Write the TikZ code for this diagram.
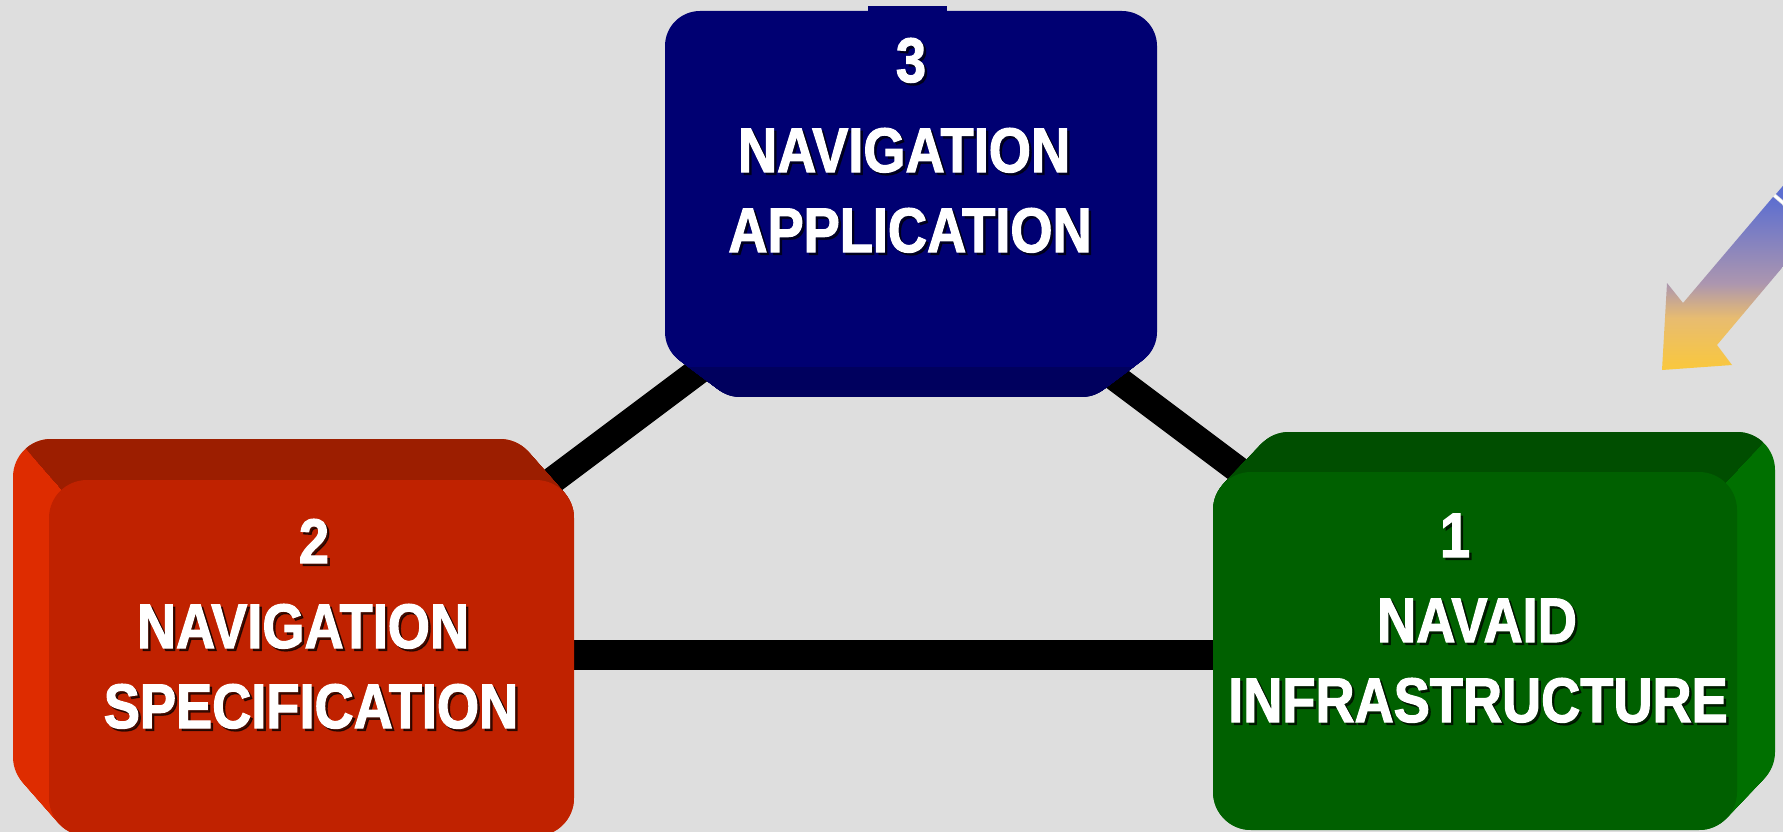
\documentclass[tikz,border=0pt]{standalone}
\usepackage{fontspec}
\newfontfamily\boxfont{Liberation Sans}[FakeStretch=0.86, BoldFeatures={FakeBold=1.8}]

\definecolor{bg}{RGB}{222,222,222}
\definecolor{navyface}{RGB}{0,0,114}
\definecolor{navyband}{RGB}{0,0,94}
\definecolor{redface}{RGB}{192,34,0}
\definecolor{redtop}{RGB}{156,30,0}
\definecolor{redside}{RGB}{222,44,0}
\definecolor{greenface}{RGB}{0,96,0}
\definecolor{greentop}{RGB}{0,78,0}
\definecolor{greenside}{RGB}{0,112,0}
\definecolor{arrowtop}{RGB}{92,110,208}
\definecolor{arrowmid}{RGB}{172,150,175}
\definecolor{arrowtan}{RGB}{232,188,112}
\definecolor{arrowbot}{RGB}{250,200,60}

% blue-to-gold fade of the arrow (path box spans 25bp..75bp)
\pgfdeclareverticalshading{arrowfade}{100bp}{%
  color(0bp)=(arrowbot); color(25bp)=(arrowbot); color(40bp)=(arrowtan);
  color(50bp)=(arrowmid); color(75bp)=(arrowtop); color(100bp)=(arrowtop)}

% one line of box text: white letters over a dark drop shadow
\newcommand\boxline[4]{%
  \node[boxshadow] (#1-shadow) at ({#2+2.5},{#3+2.5}) {#4};
  \node[boxtext] (#1) at (#2,#3) {#4};
}

\begin{document}
\begin{tikzpicture}[x=1pt,y=-1pt,
  link/.style={line width=#1, black},
  boxtext/.style={font={\boxfont\bfseries\fontsize{63pt}{63pt}\selectfont},
                  text=white, inner sep=0pt, anchor=base},
  boxshadow/.style={boxtext, text=black, text opacity=0.65},
]
\useasboundingbox (0,0) rectangle (1783,832);
\clip (0,0) rectangle (1783,832);
\fill[bg] (0,0) rectangle (1783,832);

% bar end points, set inside the boxes so the bars run under them
\coordinate (specNE) at (525,501);
\coordinate (appSW)  at (729,348);
\coordinate (appSE)  at (1089,358);
\coordinate (infNW)  at (1265,490);
\coordinate (specE)  at (560,654.5);
\coordinate (infW)   at (1230,654.5);

\draw[link=27pt] (specNE) -- (appSW);
\draw[link=27pt] (appSE) -- (infNW);
\draw[link=30pt] (specE) -- (infW);

% ---- box 3: navigation application (blue) ----
\foreach \t in {0,0.025,...,1.001}
  \fill[navyface, rounded corners=35pt]
    ({665+40*\t},{11+30*\t}) rectangle ({1157-40*\t},{367+30*\t});
\begin{scope}
  \clip (600,367) rectangle (1220,420);
  \foreach \t in {0,0.025,...,1.001}
    \fill[navyband, rounded corners=35pt]
      ({665+40*\t},{11+30*\t}) rectangle ({1157-40*\t},{367+30*\t});
\end{scope}
\fill[navyface] (868,6) rectangle (947,14);

% ---- box 2: navigation specification (red), extruded up-left ----
\foreach \t in {0,0.025,...,1.001}
  \fill[redside, rounded corners=38pt]
    ({13+36*\t},{439+41*\t}) rectangle ++(525,356);
\begin{scope}
  \clip (-57,354) -- (159,600) -- (900,600) -- (900,354) -- cycle;
  \foreach \t in {0,0.025,...,1.001}
    \fill[redtop, rounded corners=38pt]
      ({13+36*\t},{439+41*\t}) rectangle ++(525,356);
\end{scope}
\fill[redface, rounded corners=38pt] (49,480) rectangle (574,836);

% ---- box 1: navaid infrastructure (green), extruded up-right ----
\foreach \t in {0,0.025,...,1.001}
  \fill[greenside, rounded corners=38pt]
    ({1251-38*\t},{432+40*\t}) rectangle ++(524,358);
\begin{scope}
  \clip (1585,630) -- (1813,390) -- (1813,300) -- (1100,300) -- (1100,630) -- cycle;
  \foreach \t in {0,0.025,...,1.001}
    \fill[greentop, rounded corners=38pt]
      ({1251-38*\t},{432+40*\t}) rectangle ++(524,358);
\end{scope}
\fill[greenface, rounded corners=38pt] (1213,472) rectangle (1737,830);

% ---- texts ----
\boxline{app-num}{911}{82}{3}
\boxline{app-a}{904}{172}{NAVIGATION}
\boxline{app-b}{910}{252}{APPLICATION}

\boxline{spec-num}{314}{563}{2}
\boxline{spec-a}{303}{648}{NAVIGATION}
\boxline{spec-b}{311}{728}{SPECIFICATION}

\boxline{inf-num}{1455}{557}{1}
\boxline{inf-a}{1477}{642}{NAVAID}
\boxline{inf-b}{1478}{722}{INFRASTRUCTURE}

% ---- shaded arrow pointing at box 1 ----
\fill[arrowtop] (1776,194) -- (1816,228) -- (1840,200) -- (1800,166) -- cycle;
\shade[shading=arrowfade]
  (1662,370) -- (1732,365) -- (1717,345) -- (1813,231) -- (1773,197)
  -- (1683,303) -- (1667,283) -- cycle;
\draw[white, line width=2.5pt] (1774.5,195.5) -- (1820,234);
\end{tikzpicture}
\end{document}
